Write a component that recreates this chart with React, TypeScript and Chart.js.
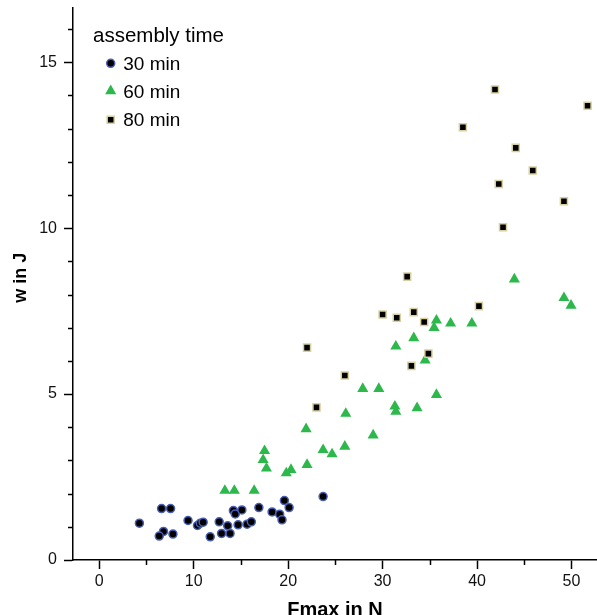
import React, { useEffect, useRef } from "react";
import { Chart, registerables } from "chart.js";

Chart.register(...registerables);

// ---- data ----
const xTicks = [0, 10, 20, 30, 40, 50];
const yTicks = [0, 5, 10, 15];
const xMinorTicks = [5, 15, 25, 35, 45];
const yMinorTicks = [1, 2, 3, 4, 6, 7, 8, 9, 11, 12, 13, 14, 16];

const xTitle = "Fmax in N";
const yTitle = "w in J";
const legendTitle = "assembly time";
const seriesLabels = ["30 min", "60 min", "80 min"];

const time30X = [4.25, 6.6, 7.55, 6.8, 6.35, 7.8, 9.4, 10.4, 10.7, 11.0, 11.75, 12.7, 12.95, 13.6, 13.85, 14.2, 14.4, 15.1, 14.7, 15.65, 16.1, 16.9, 18.3, 19.1, 19.35, 19.6, 20.1, 23.7];
const time30Y = [1.11, 1.55, 1.55, 0.86, 0.72, 0.78, 1.19, 1.04, 1.11, 1.14, 0.7, 1.15, 0.8, 1.03, 0.8, 1.49, 1.39, 1.51, 1.06, 1.08, 1.15, 1.58, 1.45, 1.38, 1.21, 1.79, 1.58, 1.91];

const time60X = [43.95, 49.2, 49.95, 35.7, 35.45, 37.2, 39.45, 33.3, 31.4, 34.5, 27.9, 29.6, 35.7, 31.3, 31.4, 33.65, 26.1, 21.9, 29.0, 26.0, 23.7, 24.65, 17.5, 17.35, 17.7, 20.3, 19.8, 22.0, 13.3, 14.3, 16.4];
const time60Y = [8.46, 7.9, 7.67, 7.22, 7.0, 7.13, 7.13, 6.69, 6.44, 6.02, 5.16, 5.16, 4.98, 4.63, 4.47, 4.58, 4.41, 3.95, 3.76, 3.42, 3.32, 3.19, 3.29, 3.02, 2.76, 2.72, 2.62, 2.87, 2.09, 2.09, 2.09];

const time80X = [41.9, 51.7, 38.5, 44.1, 45.9, 42.3, 49.2, 42.75, 40.2, 32.6, 30.0, 31.5, 33.3, 34.4, 34.85, 33.05, 22.0, 26.0, 23.0];
const time80Y = [14.18, 13.69, 13.04, 12.42, 11.74, 11.33, 10.81, 10.03, 7.65, 8.54, 7.4, 7.3, 7.47, 7.17, 6.22, 5.85, 6.4, 5.56, 4.6];

// ---- styles ----
const FONT = '"Liberation Sans", Arial, Helvetica, sans-serif';
const circleFill = "#000000";
const circleBorder = "#4a60b8";
const triColor = "#2cb84b";
const triRadius = 6.4;
const rectFill = "#000000";
const rectBorder = "#d8d0a0";

const toPoints = (xs: number[], ys: number[]) => xs.map((x, i) => ({ x, y: ys[i] }));

const overlayPlugin = {
  id: "overlay",
  afterDraw(chart: any) {
    const ctx: CanvasRenderingContext2D = chart.ctx;
    const xs = chart.scales.x;
    const ys = chart.scales.y;
    const ca = chart.chartArea;
    ctx.save();
    // minor ticks
    ctx.strokeStyle = "#000";
    ctx.lineWidth = 1.5;
    ctx.beginPath();
    xMinorTicks.forEach((v) => {
      const px = Math.round(xs.getPixelForValue(v)) + 0.5;
      ctx.moveTo(px, ca.bottom);
      ctx.lineTo(px, ca.bottom + 5);
    });
    yMinorTicks.forEach((v) => {
      const py = Math.round(ys.getPixelForValue(v)) + 0.5;
      ctx.moveTo(ca.left, py);
      ctx.lineTo(ca.left - 5, py);
    });
    ctx.stroke();

    // axis titles
    ctx.fillStyle = "#000";
    ctx.textAlign = "center";
    ctx.textBaseline = "alphabetic";
    ctx.font = `bold 20px ${FONT}`;
    ctx.fillText(xTitle, (ca.left + ca.right) / 2, 615.5);
    ctx.save();
    ctx.translate(26, (ca.top + ca.bottom) / 2 - 6);
    ctx.rotate(-Math.PI / 2);
    ctx.font = `bold 18px ${FONT}`;
    ctx.fillText(yTitle, 0, 0);
    ctx.restore();

    // legend
    ctx.textAlign = "left";
    ctx.font = `20.5px ${FONT}`;
    ctx.fillStyle = "#000";
    ctx.fillText(legendTitle, 93, 41.5);
    const mx = 110.7;
    const rows = [63.3, 91, 119.7];
    const baselines = [69.5, 97.7, 126];
    // circle
    ctx.beginPath();
    ctx.arc(mx, rows[0], 4, 0, Math.PI * 2);
    ctx.fillStyle = circleFill;
    ctx.fill();
    ctx.lineWidth = 1.5;
    ctx.strokeStyle = circleBorder;
    ctx.stroke();
    // triangle
    const r = triRadius;
    ctx.beginPath();
    ctx.moveTo(mx, rows[1] - r);
    ctx.lineTo(mx + r * Math.sin(Math.PI / 3), rows[1] + r / 2);
    ctx.lineTo(mx - r * Math.sin(Math.PI / 3), rows[1] + r / 2);
    ctx.closePath();
    ctx.fillStyle = triColor;
    ctx.fill();
    // square
    const s = 5 * Math.SQRT1_2;
    ctx.beginPath();
    ctx.rect(mx - s, rows[2] - s, 2 * s, 2 * s);
    ctx.fillStyle = rectFill;
    ctx.fill();
    ctx.strokeStyle = rectBorder;
    ctx.lineWidth = 1.5;
    ctx.stroke();

    ctx.fillStyle = "#000";
    ctx.font = `19px ${FONT}`;
    seriesLabels.forEach((lab, i) => ctx.fillText(lab, 123.3, baselines[i]));
    ctx.restore();
  },
};

export default function App() {
  const canvasRef = useRef<HTMLCanvasElement | null>(null);

  useEffect(() => {
    if (!canvasRef.current) return;
    const chart = new Chart(canvasRef.current, {
      type: "scatter",
      data: {
        datasets: [
          {
            label: seriesLabels[0],
            data: toPoints(time30X, time30Y),
            pointStyle: "circle",
            pointRadius: 4,
            pointHoverRadius: 4,
            backgroundColor: circleFill,
            borderColor: circleBorder,
            borderWidth: 1.5,
            order: 3,
          },
          {
            label: seriesLabels[1],
            data: toPoints(time60X, time60Y),
            pointStyle: "triangle",
            pointRadius: triRadius,
            pointHoverRadius: triRadius,
            backgroundColor: triColor,
            borderColor: triColor,
            borderWidth: 0,
            order: 2,
          },
          {
            label: seriesLabels[2],
            data: toPoints(time80X, time80Y),
            pointStyle: "rect",
            pointRadius: 5,
            pointHoverRadius: 5,
            backgroundColor: rectFill,
            borderColor: rectBorder,
            borderWidth: 1.5,
            order: 1,
          },
        ],
      },
      options: {
        animation: false,
        responsive: false,
        maintainAspectRatio: false,
        devicePixelRatio: 1,
        layout: { autoPadding: false, padding: { top: 7.5, right: 0, left: 0, bottom: 0 } },
        plugins: {
          legend: { display: false },
          tooltip: { enabled: false },
          title: { display: false },
        },
        scales: {
          x: {
            type: "linear",
            min: -2.78,
            max: 52.7,
            afterBuildTicks: (scale: any) => {
              scale.ticks = xTicks.map((v) => ({ value: v }));
            },
            afterFit: (scale: any) => {
              scale.height = 55;
              scale.paddingLeft = 0;
              scale.paddingRight = 0;
              scale.paddingTop = 0;
              scale.paddingBottom = 0;
            },
            border: { display: true, color: "#000", width: 1.5 },
            grid: {
              drawOnChartArea: false,
              drawTicks: true,
              tickLength: 9,
              tickColor: "#000",
              tickWidth: 1.5,
            },
            ticks: {
              padding: 3,
              color: "#111",
              font: { family: FONT, size: 16 },
              maxRotation: 0,
              autoSkip: false,
              callback: (v: any) => String(v),
            },
          },
          y: {
            type: "linear",
            min: 0,
            max: 16.65,
            afterBuildTicks: (scale: any) => {
              scale.ticks = yTicks.map((v) => ({ value: v }));
            },
            afterFit: (scale: any) => {
              scale.width = 73;
              scale.paddingLeft = 0;
              scale.paddingRight = 0;
              scale.paddingTop = 0;
              scale.paddingBottom = 0;
            },
            border: { display: true, color: "#000", width: 1.5 },
            grid: {
              drawOnChartArea: false,
              drawTicks: true,
              tickLength: 9,
              tickColor: "#000",
              tickWidth: 1.5,
            },
            ticks: {
              padding: 7,
              color: "#111",
              font: { family: FONT, size: 16 },
              autoSkip: false,
              callback: (v: any) => String(v),
            },
          },
        },
      },
      plugins: [overlayPlugin],
    } as any);
    return () => chart.destroy();
  }, []);

  return (
    <div style={{ position: "absolute", left: 0, top: 0, width: 597, height: 615, background: "#fff" }}>
      <canvas ref={canvasRef} width={597} height={615} style={{ width: 597, height: 615, display: "block" }} />
    </div>
  );
}
